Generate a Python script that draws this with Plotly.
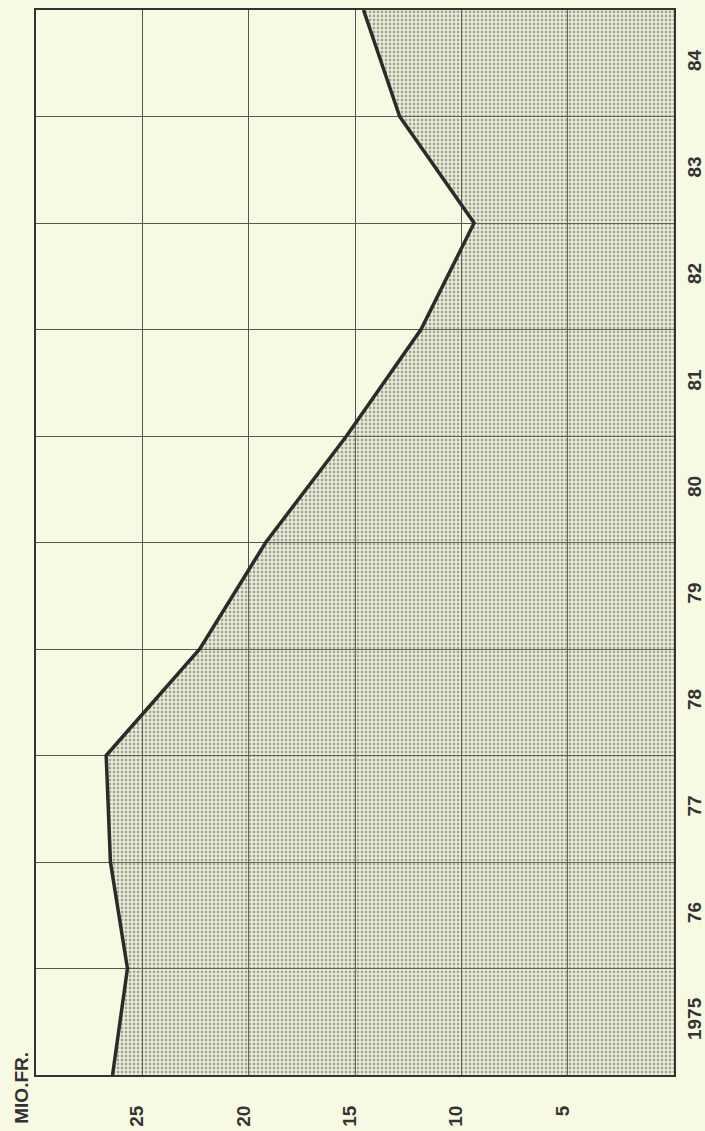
import plotly.graph_objects as go

# Data (year boundaries -> value in Mio. Fr.)
years = [1975, 1976, 1977, 1978, 1979, 1980, 1981, 1982, 1983, 1984, 1985]
values = [26.4, 25.7, 26.5, 26.7, 22.3, 19.2, 15.4, 11.9, 9.4, 12.9, 14.6]

year_label_pos = [1975.5, 1976.5, 1977.5, 1978.5, 1979.5, 1980.5, 1981.5, 1982.5, 1983.5, 1984.5]
year_labels = ["1975", "76", "77", "78", "79", "80", "81", "82", "83", "84"]
year_grid = [1976, 1977, 1978, 1979, 1980, 1981, 1982, 1983, 1984]
value_ticks = [5, 10, 15, 20, 25]
value_labels = ["5", "10", "15", "20", "25"]

BG = "#f8f9e3"
INK = "#2b2b2b"
FONT = dict(family="Liberation Sans, Arial, sans-serif", size=19, color="#333333",
            weight="bold")

fig = go.Figure()
fig.add_trace(go.Scatter(
    x=values, y=years, mode="lines",
    line=dict(color=INK, width=3.5),
    fill="tozerox",
    fillcolor="rgba(150,150,130,0.15)",
    fillpattern=dict(shape=".", size=4, solidity=0.4, fgcolor="#5e5e58",
                     bgcolor="rgba(170,170,150,0.15)"),
    hoverinfo="skip", showlegend=False,
))

fig.update_layout(
    width=705, height=1131,
    margin=dict(l=36, r=31, t=10, b=56, autoexpand=False),
    paper_bgcolor=BG, plot_bgcolor=BG,
    font=FONT,
    showlegend=False,
)

fig.update_xaxes(
    range=[30, 0], tickmode="array", tickvals=value_ticks, ticktext=value_labels,
    tickangle=-90, showgrid=True, gridcolor="#555555", gridwidth=1,
    showline=True, linecolor="#333333", linewidth=2, mirror=True,
    zeroline=False, ticks="", ticklabelstandoff=21, ticklabelshift=5,
    tickfont=FONT, automargin=False,
)
fig.update_yaxes(
    range=[1975, 1985], side="right", tickmode="array",
    tickvals=year_label_pos, ticktext=year_labels, tickangle=-90,
    showgrid=False, zeroline=False, ticks="",
    showline=True, linecolor="#333333", linewidth=2, mirror=True,
    minor=dict(tickmode="array", tickvals=year_grid, showgrid=True,
               gridcolor="#555555", gridwidth=1, ticks=""),
    ticklabelstandoff=2, tickfont=FONT, automargin=False,
)

fig.add_annotation(
    text="MIO.FR.", textangle=-90, showarrow=False,
    xref="paper", yref="paper", x=-0.022, y=-0.012,
    xanchor="center", yanchor="middle",
    font=FONT,
)

fig.write_html(
    "out.html",
    config={"displayModeBar": False},
    post_script="document.body.style.margin='0';document.body.style.overflow='hidden';"
                "document.body.style.background='" + BG + "';",
)
